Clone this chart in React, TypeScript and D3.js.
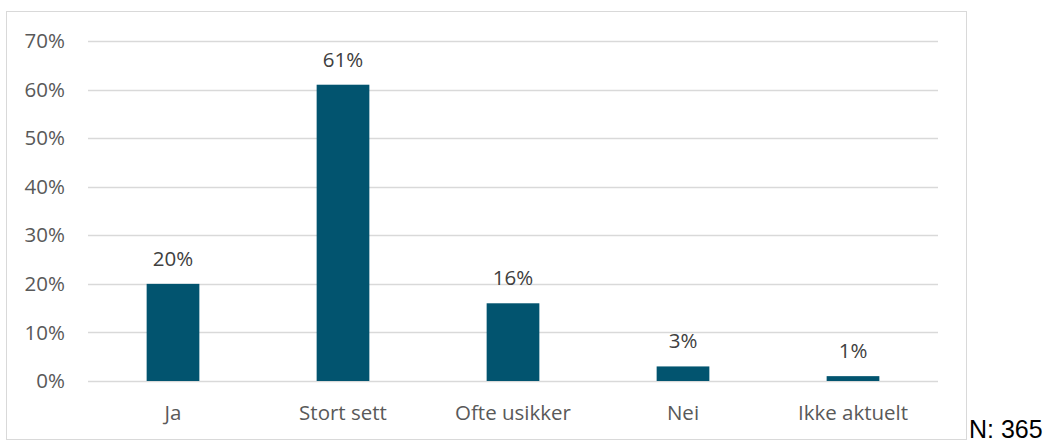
import React, { useEffect, useRef } from "react";
import * as d3 from "d3";

const categories = ["Ja", "Stort sett", "Ofte usikker", "Nei", "Ikke aktuelt"];
const values = [20, 61, 16, 3, 1];
const yTicks = [0, 10, 20, 30, 40, 50, 60, 70];
const note = "N: 365";

const App: React.FC = () => {
  const svgRef = useRef<SVGSVGElement>(null);

  useEffect(() => {
    if (!svgRef.current) return;
    const svg = d3.select(svgRef.current);
    svg.selectAll("*").remove();

    const font = "'Open Sans', sans-serif";
    const fontSize = 20.5;

    // chart frame
    svg
      .append("rect")
      .attr("x", 6.5)
      .attr("y", 11.5)
      .attr("width", 960)
      .attr("height", 428)
      .attr("fill", "#fff")
      .attr("stroke", "#d9d9d9")
      .attr("stroke-width", 1);

    const xScale = d3
      .scaleBand<string>()
      .domain(categories)
      .range([88, 938])
      .paddingInner(0.69)
      .paddingOuter(0.345);

    const yScale = d3.scaleLinear().domain([0, 70]).range([381, 41]);

    // gridlines
    svg
      .append("g")
      .selectAll("line")
      .data(yTicks)
      .join("line")
      .attr("x1", 88)
      .attr("x2", 938)
      .attr("y1", (d) => Math.round(yScale(d)) + 0.5)
      .attr("y2", (d) => Math.round(yScale(d)) + 0.5)
      .attr("stroke", "#d9d9d9")
      .attr("stroke-width", 1.3);

    // y labels
    svg
      .append("g")
      .selectAll("text")
      .data(yTicks)
      .join("text")
      .attr("x", 65)
      .attr("y", (d) => yScale(d))
      .attr("dy", "0.35em")
      .attr("text-anchor", "end")
      .attr("font-family", font)
      .attr("font-size", fontSize)
      .attr("fill", "#595959")
      .text((d) => `${d}%`);

    // bars
    svg
      .append("g")
      .selectAll("rect")
      .data(values)
      .join("rect")
      .attr("x", (_, i) => xScale(categories[i])!)
      .attr("y", (d) => yScale(d))
      .attr("width", xScale.bandwidth())
      .attr("height", (d) => yScale(0) - yScale(d))
      .attr("fill", "#02546f");

    // value labels
    svg
      .append("g")
      .selectAll("text")
      .data(values)
      .join("text")
      .attr("x", (_, i) => xScale(categories[i])! + xScale.bandwidth() / 2)
      .attr("y", (d) => yScale(d) - 18)
      .attr("text-anchor", "middle")
      .attr("font-family", font)
      .attr("font-size", fontSize)
      .attr("fill", "#404040")
      .text((d) => `${d}%`);

    // x labels
    svg
      .append("g")
      .selectAll("text")
      .data(categories)
      .join("text")
      .attr("x", (d) => xScale(d)! + xScale.bandwidth() / 2)
      .attr("y", 420)
      .attr("text-anchor", "middle")
      .attr("font-family", font)
      .attr("font-size", fontSize)
      .attr("fill", "#595959")
      .text((d) => d);

    svg
      .append("text")
      .attr("x", 969)
      .attr("y", 438)
      .attr("font-family", "'Liberation Sans', Arial, sans-serif")
      .attr("font-size", 25)
      .attr("fill", "#000")
      .text(note);
  }, []);

  return (
    <svg
      ref={svgRef}
      width={1056}
      height={444}
      style={{ position: "absolute", left: 0, top: 0, display: "block" }}
    />
  );
};

export default App;
